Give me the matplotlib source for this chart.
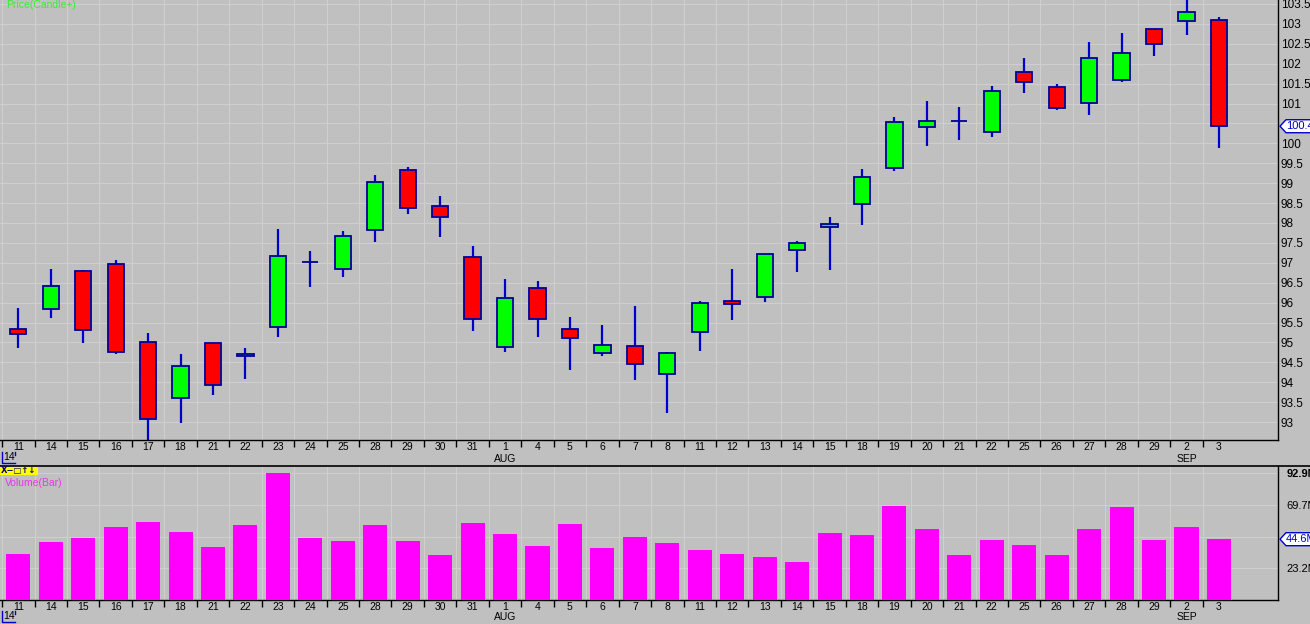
import matplotlib
matplotlib.use("Agg")
import matplotlib.pyplot as plt
from matplotlib.lines import Line2D
from matplotlib.patches import Polygon, Rectangle
import numpy as np

# daily OHLC + volume
dates = ['11', '14', '15', '16', '17', '18', '21', '22', '23', '24', '25', '28', '29', '30', '31',
         '1', '4', '5', '6', '7', '8', '11', '12', '13', '14', '15', '18', '19', '20', '21', '22',
         '25', '26', '27', '28', '29', '2', '3']
months = {15: 'AUG', 36: 'SEP'}

opens = [95.33, 95.83, 96.79, 96.96, 95.00, 93.60, 94.98, 94.65, 95.40, 97.01, 96.84, 97.82, 99.32,
         98.42, 97.14, 94.88, 96.36, 95.33, 94.73, 94.90, 94.22, 95.25, 96.03, 96.13, 97.31, 97.89,
         98.47, 99.39, 100.42, 100.57, 100.28, 101.79, 101.41, 101.01, 101.59, 102.87, 103.07, 103.09]
highs = [95.86, 96.84, 96.81, 97.07, 95.23, 94.71, 94.98, 94.85, 97.85, 97.30, 97.80, 99.21, 99.41,
         98.68, 97.41, 96.59, 96.54, 95.64, 95.44, 95.91, 94.77, 96.04, 96.84, 97.22, 97.55, 98.16,
         99.36, 100.66, 101.07, 100.91, 101.44, 102.15, 101.49, 102.55, 102.77, 102.87, 103.65, 103.18]
lows = [94.85, 95.62, 94.99, 94.72, 92.50, 92.98, 93.69, 94.09, 95.14, 96.40, 96.64, 97.53, 98.23,
        97.66, 95.29, 94.77, 95.14, 94.31, 94.67, 94.06, 93.24, 94.79, 95.57, 96.02, 96.78, 96.83,
        97.96, 99.31, 99.94, 100.09, 100.17, 101.27, 100.85, 100.70, 101.55, 102.20, 102.71, 99.89]
closes = [95.20, 96.43, 95.30, 94.75, 93.07, 94.40, 93.92, 94.71, 97.16, 97.01, 97.67, 99.02, 98.37,
          98.14, 95.58, 96.11, 95.58, 95.10, 94.93, 94.45, 94.73, 95.98, 95.96, 97.21, 97.49, 97.97,
          99.15, 100.53, 100.56, 100.57, 101.32, 101.54, 100.88, 102.14, 102.26, 102.49, 103.29, 100.43]
volumes = [34.0, 42.8, 45.7, 53.8, 57.4, 50.1, 39.1, 55.2, 92.9, 45.7, 43.5, 55.2, 43.5, 33.2, 56.7,
           48.6, 39.8, 56.0, 38.4, 46.4, 42.0, 36.9, 34.0, 31.8, 28.1, 49.4, 47.9, 69.2, 52.3, 33.2,
           44.2, 40.5, 33.2, 52.3, 68.4, 44.2, 53.8, 44.6]

price_ticks = np.arange(93.0, 103.51, 0.5)
vol_ticks = [23.2, 46.45, 69.7, 92.9]
vol_labels = ['23.2M', '', '69.7M', '92.9M']

BG = '#c0c0c0'
GRID = '#cfcfcf'
EDGE = '#000099'
WICK = '#0000cc'
W, H = 1310, 624


def fx(px):
    return px / W


def fy(py):
    return 1 - py / H


fig = plt.figure(figsize=(13.1, 6.24), dpi=100, facecolor=BG)
plt.rcParams['font.family'] = ['Liberation Sans', 'DejaVu Sans']

ax = fig.add_axes([0, fy(440), fx(1278), 440 / H], facecolor=BG)
axv = fig.add_axes([0, fy(600), fx(1278), 134 / H], facecolor=BG)

idx = np.arange(len(dates))
xlim = (-18.3 / 32.45, (1278 - 18.3) / 32.45)

# --- price candles ---
ax.vlines(idx, lows, highs, color=WICK, lw=1.6, zorder=2)
o = np.array(opens)
c = np.array(closes)
cols = np.where(c >= o, '#00ff00', '#ff0000')
ax.bar(idx, np.abs(c - o), bottom=np.minimum(o, c), width=0.5, color=cols,
       edgecolor=EDGE, linewidth=1.3, zorder=3)

ax.set_xlim(*xlim)
ax.set_ylim(92.55, 103.6)

# --- volume bars ---
axv.bar(idx, volumes, width=0.74, color='#ff00ff', zorder=3)
axv.set_xlim(*xlim)
axv.set_ylim(0, 98.3)

for a in (ax, axv):
    a.set_xticks(idx - 0.5)
    a.set_xticklabels([])
    a.set_xticks(idx, labels=dates, minor=True)
    a.tick_params(axis='x', which='major', length=5, width=1, color='black', direction='out')
    a.tick_params(axis='x', which='minor', length=0, pad=1.5, labelsize=7.5)
    a.yaxis.tick_right()
    a.tick_params(axis='y', length=0, pad=2, labelsize=8.5)
    a.grid(True, which='major', color=GRID, lw=0.8, zorder=0)
    a.set_axisbelow(True)
    for s in ('top', 'left'):
        a.spines[s].set_visible(False)
    for s in ('right', 'bottom'):
        a.spines[s].set_color('black')
        a.spines[s].set_linewidth(1)
    # month names sit just under the day numbers
    month_y = -13.5 / 440 if a is ax else -12.5 / 134
    for i, m in months.items():
        a.text(i, month_y, m, transform=a.get_xaxis_transform(),
               ha='center', va='top', fontsize=7.5, clip_on=False)

plabels = ['' if abs(t - 100.5) < 1e-6 else ('%g' % t) for t in price_ticks]
ax.set_yticks(price_ticks, labels=plabels)
axv.set_yticks(vol_ticks, labels=vol_labels)
axv.get_yticklabels()[-1].set_fontweight('bold')
axv.tick_params(axis='y', pad=6, labelsize=8)

# separator line between the panels
fig.add_artist(Line2D([0, 1], [fy(466), fy(466)], transform=fig.transFigure, color='black', lw=1.2))

# panel titles
fig.text(fx(6), fy(5), 'Price(Candle+)', color='#33ee33', fontsize=7.5, va='center', ha='left')
fig.text(fx(5), fy(483), 'Volume(Bar)', color='#ee33ee', fontsize=7.5, va='center', ha='left')

# small toolbar on the volume panel
fig.add_artist(Rectangle((fx(0), fy(475)), fx(38), 8 / H, transform=fig.transFigure,
                         facecolor='#ffff00', edgecolor='none'))
fig.text(fx(1), fy(471), 'X\u2212\u25a1\u2191\u2193', color='#000080', fontsize=6,
         family=['DejaVu Sans'], va='center', ha='left', fontweight='bold')

# the little "14" boxes under each axis
for ytop in (452, 611):
    fig.text(fx(3), fy(ytop + 5), '14', fontsize=7.5, va='center', ha='left')
    fig.add_artist(Line2D([fx(2), fx(2), fx(15)], [fy(ytop), fy(ytop + 11), fy(ytop + 11)],
                          transform=fig.transFigure, color='#0000cc', lw=1))
    fig.add_artist(Line2D([fx(15), fx(15)], [fy(ytop), fy(ytop + 3)],
                          transform=fig.transFigure, color='#0000cc', lw=1))


# last-value tags on the right axis
def value_tag(a, value, text):
    fig.canvas.draw()
    ypx = a.transData.transform((0, value))[1]
    yy = H - ypx
    pts = [(1280, yy), (1286, yy - 6.5), (1312, yy - 6.5), (1312, yy + 6.5), (1286, yy + 6.5)]
    fig.add_artist(Polygon([(fx(px), fy(py)) for px, py in pts], closed=True,
                           transform=fig.transFigure, facecolor='white', edgecolor='#0000cc',
                           lw=1, zorder=5))
    fig.text(fx(1286), fy(yy), text, color='#0000cc', fontsize=8, va='center', ha='left', zorder=6)


value_tag(ax, closes[-1], '%.1f' % closes[-1])
value_tag(axv, volumes[-1], '%.1fM' % volumes[-1])

fig.savefig('out.png', dpi=100, facecolor=BG)
